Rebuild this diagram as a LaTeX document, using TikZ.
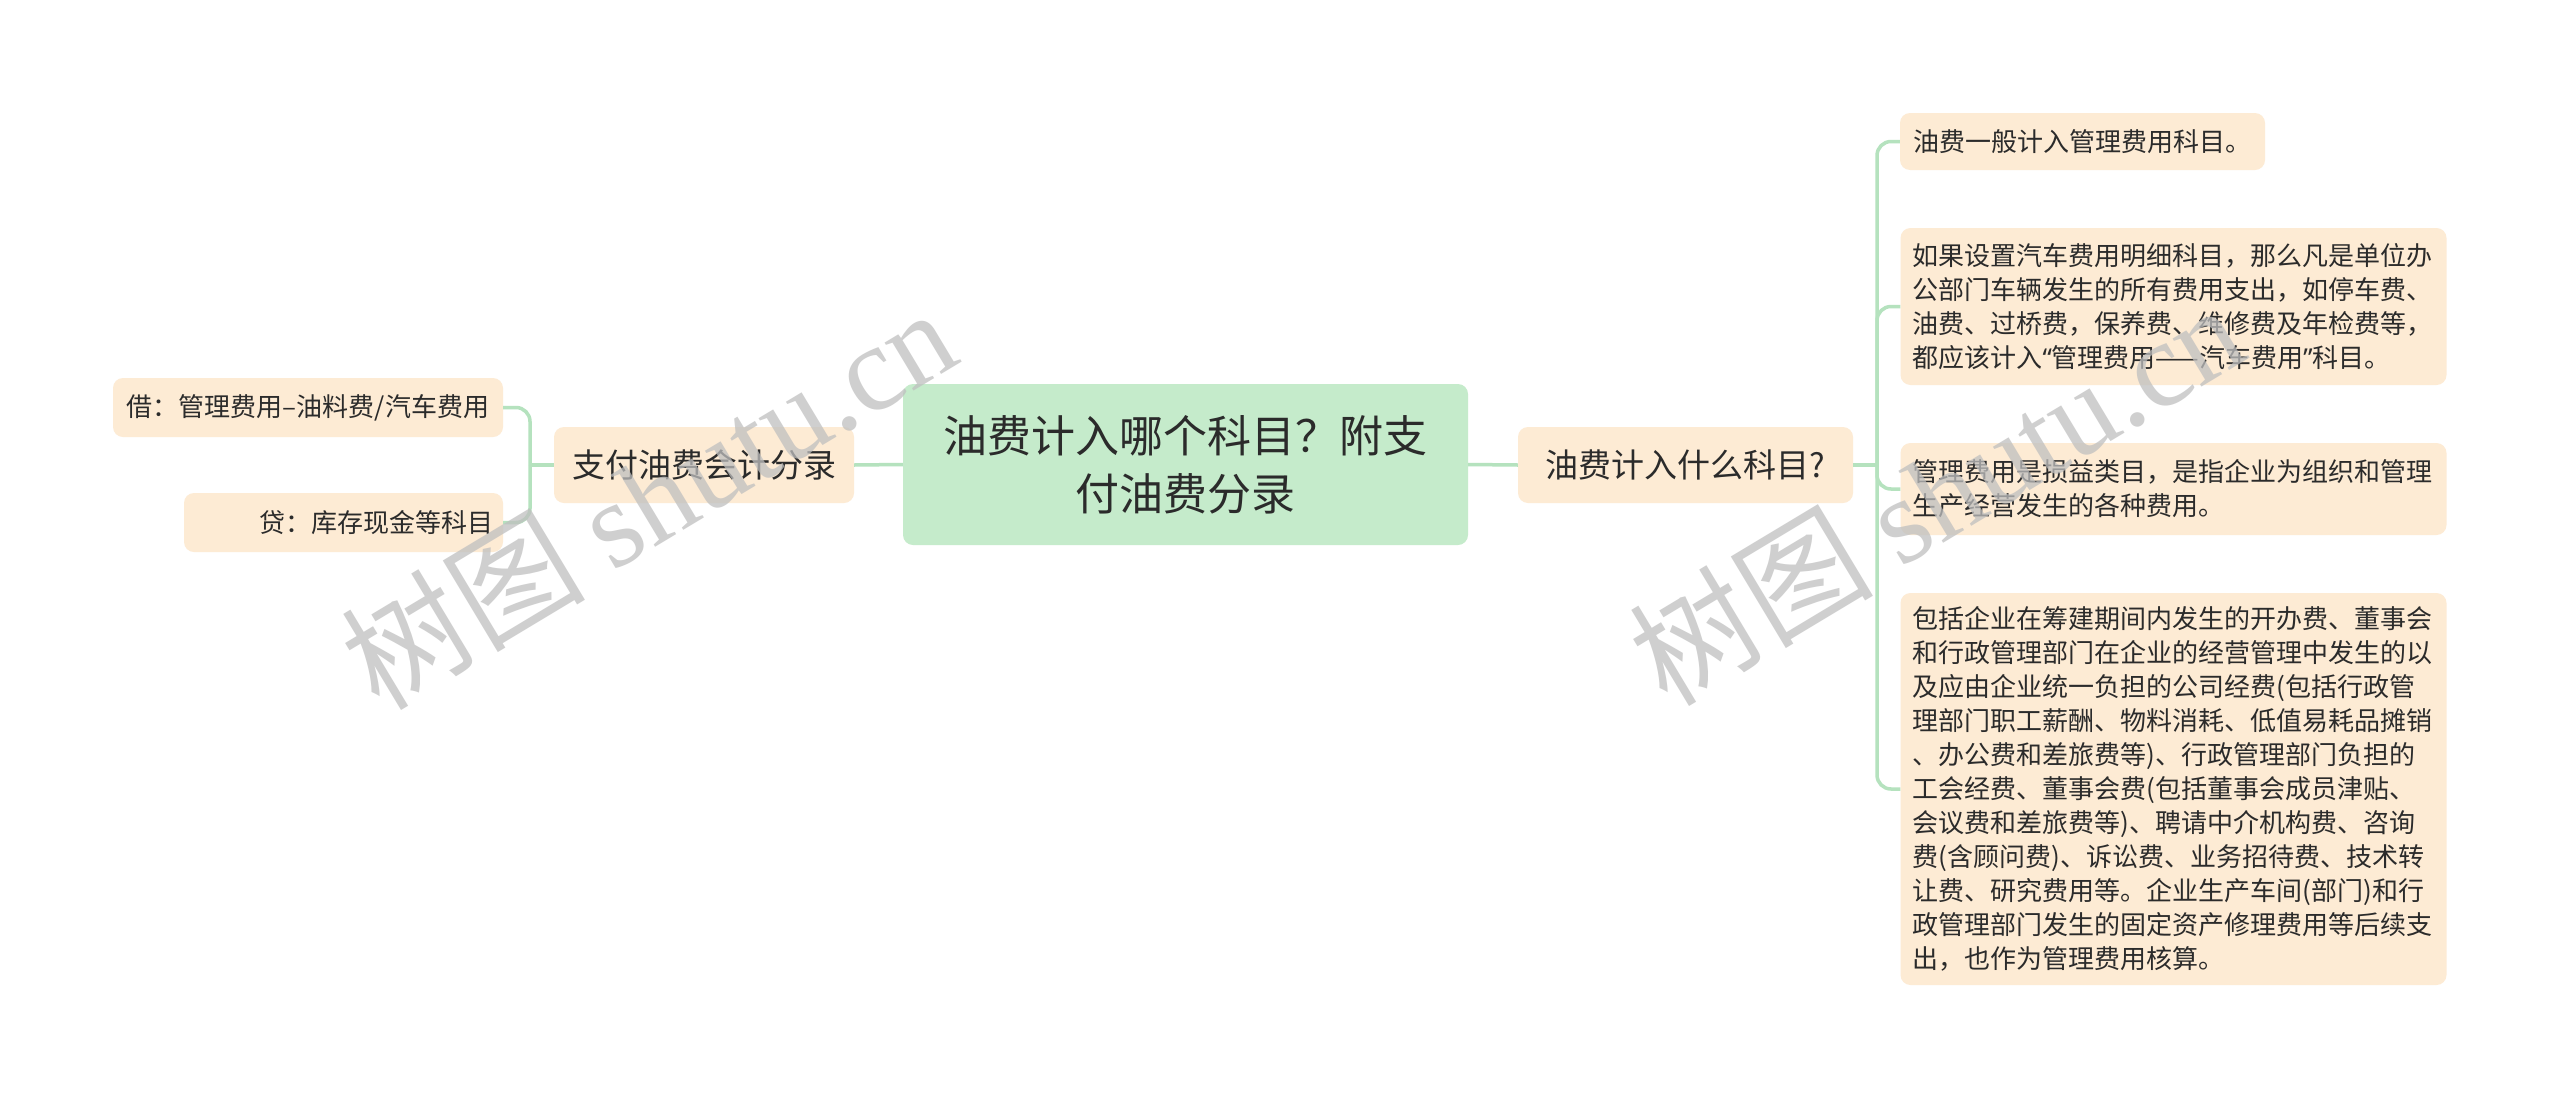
\documentclass[tikz,border=0pt]{standalone}
\usepackage{fontspec}
\setmainfont{Noto Sans CJK SC}
\newfontfamily\wmlat{Liberation Serif}
\newfontfamily\latf{Noto Sans}
\definecolor{leafc}{HTML}{FDEBD4}
\definecolor{rootc}{HTML}{C5EBCB}
\definecolor{linkc}{HTML}{B5E2BE}
\definecolor{txtc}{HTML}{2B2B2B}
\begin{document}
\begin{tikzpicture}[x=1pt,y=-1pt,
  box/.style={rounded corners=10pt, inner sep=0pt, text=txtc},
  leafbox/.style={box, fill=leafc},
  lt/.style={font=\fontsize{26pt}{34pt}\selectfont},
  mt/.style={font=\fontsize{33pt}{40pt}\selectfont},
  link/.style={draw=linkc, line width=3.5pt, rounded corners=14pt},
  wm/.style={text=black!25, opacity=0.75, rotate=31, inner sep=0pt},
]
\fill[white] (0,0) rectangle (2560,1098);
\useasboundingbox (0,0) rectangle (2560,1098);

\node[box, fill=rootc, minimum width=565pt, minimum height=161pt, align=center,
      font=\fontsize{44pt}{58pt}\selectfont] (root) at (1185.5,464.5)
      {油费计入哪个科目？附支\\付油费分录};

\node[leafbox, mt, minimum width=335pt, minimum height=76pt] (r1) at (1685.5,465) {油费计入什么科目?};
\node[leafbox, mt, minimum width=300pt, minimum height=76pt] (l1) at (704,465) {支付油费会计分录};

\node[leafbox, lt, minimum width=390pt, minimum height=59pt] (la) at (308,407.5) {借：管理费用–油料费/汽车费用};
\node[leafbox, lt, minimum width=319pt, minimum height=59pt, text width=299pt, align=right] (lb) at (343.5,522.5) {贷：库存现金等科目};

\node[leafbox, lt, minimum width=365pt, minimum height=57pt] (ra) at (2082.5,141.5) {油费一般计入管理费用科目。};
\node[leafbox, lt, text width=522pt, align=left, minimum width=546pt, minimum height=157pt] (rb) at (2173.5,306.5)
{如果设置汽车费用明细科目，那么凡是单位办\\
公部门车辆发生的所有费用支出，如停车费、\\
油费、过桥费，保养费、维修费及年检费等，\\
都应该计入{\latf “}管理费用——汽车费用{\latf ”}科目。};
\node[leafbox, lt, text width=522pt, align=left, minimum width=546pt, minimum height=92pt] (rc) at (2173.5,489)
{管理费用是损益类目，是指企业为组织和管理\\
生产经营发生的各种费用。};
\node[leafbox, lt, text width=522pt, align=left, minimum width=546pt, minimum height=392pt] (rd) at (2173.5,789)
{包括企业在筹建期间内发生的开办费、董事会\\
和行政管理部门在企业的经营管理中发生的以\\
及应由企业统一负担的公司经费(包括行政管\\
理部门职工薪酬、物料消耗、低值易耗品摊销\\
、办公费和差旅费等)、行政管理部门负担的\\
工会经费、董事会费(包括董事会成员津贴、\\
会议费和差旅费等)、聘请中介机构费、咨询\\
费(含顾问费)、诉讼费、业务招待费、技术转\\
让费、研究费用等。企业生产车间(部门)和行\\
政管理部门发生的固定资产修理费用等后续支\\
出，也作为管理费用核算。};

\coordinate (rs) at (1877,465);
\coordinate (ls) at (530,465);
\draw[link] (root.west) -- (l1.east);
\draw[link] (root.east) -- (r1.west);
\draw[link] (r1.east) -- (rs);
\draw[link] (rs) |- (ra.west);
\draw[link] (rs) |- (rb.west);
\draw[link] (rs) |- (rc.west);
\draw[link] (rs) |- (rd.west);
\draw[link] (l1.west) -- (ls);
\draw[link] (ls) |- (la.east);
\draw[link] (ls) |- (lb.east);

\node[wm, font=\fontsize{122pt}{130pt}\selectfont] (wm1) at (648,497) {树图 {\wmlat shutu.cn}};
\node[wm, font=\fontsize{122pt}{130pt}\selectfont] (wm2) at (1936,493) {树图 {\wmlat shutu.cn}};
\end{tikzpicture}
\end{document}
